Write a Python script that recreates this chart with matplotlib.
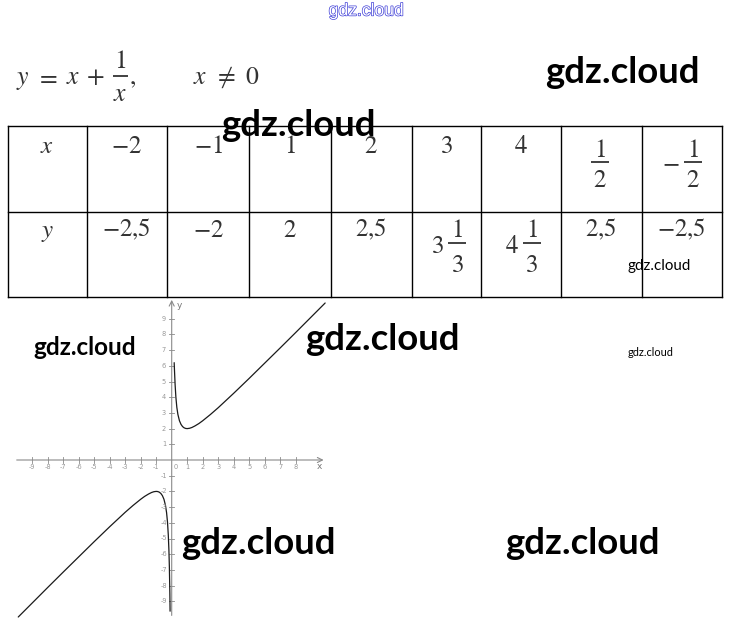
import matplotlib
matplotlib.use("Agg")
import matplotlib.pyplot as plt
import matplotlib.patheffects as pe

plt.rcParams['mathtext.fontset'] = 'stix'

# ---------------- data ----------------
table_x = ["x", "-2", "-1", "1", "2", "3", "4", "1/2", "-1/2"]
table_y = ["y", "-2,5", "-2", "2", "2,5", "3 1/3", "4 1/3", "2,5", "-2,5"]

# curve points (y = x + 1/x)
x_up = [0.16, 0.18, 0.22, 0.27, 0.33, 0.4, 0.5, 0.6, 0.7, 0.8, 0.9, 1.0, 1.15,
        1.3, 1.5, 1.75, 2.0, 2.5, 3.0, 4.0, 5.0, 6.0, 7.0, 8.0, 9.0, 9.9]
y_up = [6.2, 5.7, 4.8, 4.0, 3.36, 2.9, 2.5, 2.27, 2.13, 2.05, 2.01, 2.0, 2.02,
        2.07, 2.17, 2.32, 2.5, 2.9, 3.33, 4.25, 5.2, 6.17, 7.14, 8.12, 9.11, 10.0]
x_lo = [-9.9, -9, -8, -7, -6, -5, -4, -3, -2.5, -2, -1.75, -1.5, -1.3, -1.15,
        -1.0, -0.9, -0.8, -0.7, -0.6, -0.5, -0.4, -0.33, -0.27, -0.22, -0.18,
        -0.15, -0.12, -0.105]
y_lo = [-10.0, -9.11, -8.12, -7.14, -6.17, -5.2, -4.25, -3.33, -2.9, -2.5,
        -2.32, -2.17, -2.07, -2.02, -2.0, -2.01, -2.05, -2.13, -2.27, -2.5,
        -2.9, -3.36, -3.97, -4.77, -5.74, -6.82, -8.45, -9.63]

x_ticks = list(range(-9, 9))
y_ticks = [v for v in range(-9, 10) if v != 0]

wm_text = "gdz.cloud"

# ---------------- layout ----------------
W, H = 733, 635
fig = plt.figure(figsize=(W / 100, H / 100), dpi=100)
renderer = fig.canvas.get_renderer()

bg = fig.add_axes([0, 0, 1, 1])
bg.set_xlim(0, W)
bg.set_ylim(H, 0)
bg.axis('off')

ink = '#333333'
FS = 18


def m(s):
    s = s.replace(',', '{,}')
    return '$' + s + '$'


def put(x, y, s, fs=FS, ha='center', va='baseline'):
    return bg.text(x, y, m(s), fontsize=fs, color=ink, ha=ha, va=va)


def frac(cx, bar_y, num, den, fs, num_base, den_base, half):
    bg.plot([cx - half, cx + half], [bar_y, bar_y], color=ink, lw=1.3,
            solid_capstyle='butt')
    put(cx, num_base, num, fs)
    put(cx, den_base, den, fs)


# formula  y = x + 1/x ,   x != 0
fs_f = 18.5
put(16, 84, 'y', fs_f, ha='left')
put(47, 77, '=', fs_f, va='center')
put(73, 84, 'x', fs_f)
put(95, 77, '+', fs_f, va='center')
frac(120, 75.5, '1', 'x', fs_f, 68, 101, 7.5)
put(129, 84, ',', fs_f, ha='left')
put(193, 84, 'x', fs_f, ha='left')
put(225, 77, r'\neq', fs_f, va='center')
put(252, 84, '0', fs_f)

# table grid
col_edges = [8, 86.5, 167, 249, 330.5, 411.5, 480.5, 560.5, 641.5, 721.5]
row_edges = [126, 211.5, 296.5]
for xe in col_edges:
    bg.plot([xe, xe], [row_edges[0], row_edges[-1]], color='black', lw=1.0)
for ye in row_edges:
    bg.plot([col_edges[0], col_edges[-1]], [ye, ye], color='black', lw=1.0)

rows = [(table_x, 153, 161.7, 156.7, 186.7), (table_y, 236.7, 243.3, 236.7, 271.7)]
for vals, base, bar_y, nb, db in rows:
    for i, s in enumerate(vals):
        cx = (col_edges[i] + col_edges[i + 1]) / 2
        if '/' in s:
            head, _, fr = s.rpartition(' ') if ' ' in s else ('', '', s)
            if fr.startswith('-'):
                head, fr = '-', fr[1:]
            num, den = fr.split('/')
            if head:
                fcx = cx + 11
                put(cx - 2, bar_y + (0 if head == '-' else 3), head,
                    ha='right', va='center')
            else:
                fcx = cx - 1.5
            frac(fcx, bar_y, num, den, FS, nb, db, 9)
        else:
            put(cx, base, s)

# graph axes: pixel mapping
ox, oy, sx, sy = 171.7, 460.0, 15.5, 15.7
L, R, T, B = 10, 340, 295, 622
gax = fig.add_axes([L / W, 1 - B / H, (R - L) / W, (B - T) / H])
gax.set_xlim((L - ox) / sx, (R - ox) / sx)
gax.set_ylim((oy - B) / sy, (oy - T) / sy)
gax.axis('off')

gray = '#8a8a8a'
gax.annotate('', xy=(9.8, 0), xytext=(-10.0, 0),
             arrowprops=dict(arrowstyle='->', color=gray, lw=0.8,
                             shrinkA=0, shrinkB=0, mutation_scale=9))
gax.annotate('', xy=(0, 10.2), xytext=(0, -9.9),
             arrowprops=dict(arrowstyle='->', color=gray, lw=0.8,
                             shrinkA=0, shrinkB=0, mutation_scale=9))
tk = 0.17
for v in x_ticks:
    if v != 0:
        gax.plot([v, v], [-tk, tk], color=gray, lw=0.6)
    gax.text(v + (0.25 if v == 0 else 0), -0.42, str(v), fontsize=4.8,
             color='#999999', ha='center', va='center')
for v in y_ticks:
    gax.plot([-tk, tk], [v, v], color=gray, lw=0.6)
    gax.text(-0.5, v, str(v), fontsize=4.8, color='#999999',
             ha='center', va='center')
gax.text(9.5, -0.4, 'x', fontsize=6.5, color='#777777', ha='center', va='center')
gax.text(0.5, 9.85, 'y', fontsize=6.5, color='#777777', ha='center', va='center')

gax.plot(x_up, y_up, color='#1a1a1a', lw=0.9, solid_capstyle='round')
gax.plot(x_lo, y_lo, color='#1a1a1a', lw=0.9, solid_capstyle='round')


# watermarks
def wm(xc, yc, width, **kw):
    t = fig.text(xc / W, 1 - yc / H, wm_text, fontsize=10, ha='center',
                 va='center', zorder=10, **kw)
    bb = t.get_window_extent(renderer)
    t.set_fontsize(10 * width / bb.width)
    return t


wm(366, 11, 75, family='Liberation Sans', color='white',
   path_effects=[pe.withStroke(linewidth=1.0, foreground='#4040d8')])
for xc, yc in ((622.5, 72.5), (298.5, 125), (382, 339), (258.5, 544), (582.5, 544)):
    wm(xc, yc, 155, family='Lato', weight='bold', color='black')
wm(84.5, 347.5, 103, family='Lato', weight='bold', color='black')
wm(659.5, 266, 63, family='Lato', color='black')
wm(651, 353, 46, family='Lato', color='black')

fig.savefig('out.png', dpi=100)
